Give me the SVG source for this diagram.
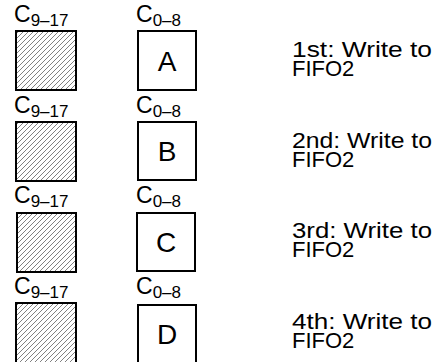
<svg xmlns="http://www.w3.org/2000/svg" width="443" height="362" viewBox="0 0 443 362">
<defs>
<pattern id="hatch" patternUnits="userSpaceOnUse" width="5" height="5">
<path d="M-1,1 l2,-2 M0,5 l5,-5 M4,6 l2,-2" stroke="#000" stroke-width="0.5"/>
</pattern>
</defs>
<style>
text{font-family:"Liberation Sans",Arial,sans-serif;fill:#000}
.c{font-size:23px}
.s{font-size:17px}
.big{font-size:28px;text-anchor:middle}
.t{font-size:22px}
.hb{fill:url(#hatch);stroke:#000;stroke-width:2}
.wb{fill:#fff;stroke:#000;stroke-width:2}
</style>
<rect width="443" height="362" fill="#fff"/>
<g id="row1">
<text class="c" x="14" y="22">C<tspan class="s" dy="4">9–17</tspan></text>
<text class="c" x="136" y="22">C<tspan class="s" dy="4">0–8</tspan></text>
<rect class="hb" x="16" y="31" width="60" height="59"/>
<rect class="wb" x="138" y="31" width="58" height="59"/>
<text class="big" x="167" y="71">A</text>
<text class="t" x="292" y="57" textLength="140" lengthAdjust="spacingAndGlyphs">1st: Write to</text>
<text class="t" x="292" y="76">FIFO2</text>
</g>
<g id="row2" transform="translate(0,91)">
<text class="c" x="14" y="22">C<tspan class="s" dy="4">9–17</tspan></text>
<text class="c" x="136" y="22">C<tspan class="s" dy="4">0–8</tspan></text>
<rect class="hb" x="16" y="31" width="60" height="59"/>
<rect class="wb" x="138" y="31" width="58" height="58"/>
<text class="big" x="167" y="70">B</text>
<text class="t" x="292" y="57" textLength="140" lengthAdjust="spacingAndGlyphs">2nd: Write to</text>
<text class="t" x="292" y="76">FIFO2</text>
</g>
<g id="row3" transform="translate(0,181)">
<text class="c" x="14" y="22">C<tspan class="s" dy="4">9–17</tspan></text>
<text class="c" x="136" y="22">C<tspan class="s" dy="4">0–8</tspan></text>
<rect class="hb" x="17" y="32" width="59" height="59"/>
<rect class="wb" x="137" y="32" width="58" height="58"/>
<text class="big" x="166" y="71">C</text>
<text class="t" x="292" y="57" textLength="140" lengthAdjust="spacingAndGlyphs">3rd: Write to</text>
<text class="t" x="292" y="76">FIFO2</text>
</g>
<g id="row4" transform="translate(0,272)">
<text class="c" x="14" y="22">C<tspan class="s" dy="4">9–17</tspan></text>
<text class="c" x="136" y="22">C<tspan class="s" dy="4">0–8</tspan></text>
<rect class="hb" x="16" y="31" width="60" height="62"/>
<rect class="wb" x="138" y="33" width="58" height="62"/>
<text class="big" x="167" y="72">D</text>
<text class="t" x="292" y="57" textLength="140" lengthAdjust="spacingAndGlyphs">4th: Write to</text>
<text class="t" x="292" y="76">FIFO2</text>
</g>
</svg>
